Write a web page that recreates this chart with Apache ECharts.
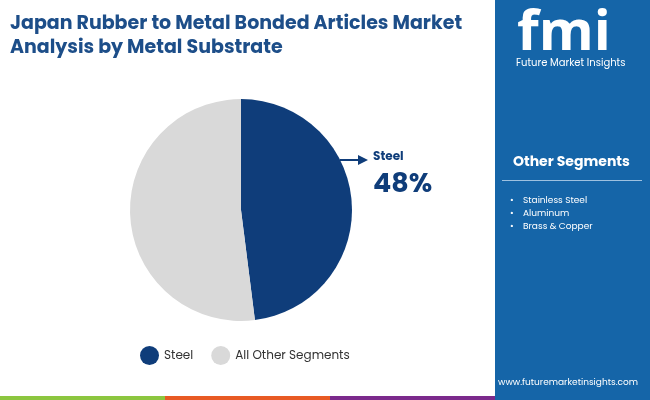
<!DOCTYPE html>
<html>
<head>
<meta charset="utf-8">
<script src="https://cdn.jsdelivr.net/npm/echarts@6/dist/echarts.min.js"></script>
<style>html,body{margin:0;padding:0;background:#fff}#main{width:650px;height:400px}</style>
</head>
<body>
<div id="main"></div>
<script>
var segments = ['Steel', 'All Other Segments'];
var shares = [48, 52];
var colors = ['#0f3d7a', '#d9d9d9'];
var otherItems = ['Stainless Steel', 'Aluminum', 'Brass & Copper'];

var chart = echarts.init(document.getElementById('main'));
var font = 'Poppins, "Open Sans", sans-serif';

var graphics = [
    // right panel
    { type: 'rect', shape: { x: 495, y: 0, width: 155, height: 400 }, style: { fill: '#1565a8' } },
    { type: 'text', left: 517, top: 6, style: { text: 'fmi', fill: '#fff', font: 'bold 56px "Open Sans", sans-serif' } },
    { type: 'text', left: 516, top: 58, style: { text: 'Future Market Insights', fill: '#fff', font: '10px ' + font } },
    { type: 'text', left: 513, top: 155, style: { text: 'Other Segments', fill: '#fff', font: 'bold 14px ' + font } },
    { type: 'rect', shape: { x: 502, y: 180, width: 140, height: 1 }, style: { fill: '#9ec1e0' } },
    { type: 'text', left: 498, top: 378, style: { text: 'www.futuremarketinsights.com', fill: '#fff', font: '9px ' + font } },
    // title
    { type: 'text', left: 10, top: 12, style: { text: 'Japan Rubber to Metal Bonded Articles Market\nAnalysis by Metal Substrate', fill: '#1d4e89', font: 'bold 19px ' + font, lineHeight: 24 } },
    // bottom bar
    { type: 'rect', shape: { x: 0, y: 396, width: 165, height: 4 }, style: { fill: '#8cc63f' } },
    { type: 'rect', shape: { x: 165, y: 396, width: 165, height: 4 }, style: { fill: '#e85a24' } },
    { type: 'rect', shape: { x: 330, y: 396, width: 165, height: 4 }, style: { fill: '#7b2a8c' } },
    // callout
    { type: 'line', shape: { x1: 340, y1: 160, x2: 360, y2: 160 }, style: { stroke: '#0f3d7a', lineWidth: 2 } },
    { type: 'polygon', shape: { points: [[358, 155], [368, 160], [358, 165]] }, style: { fill: '#0f3d7a' } },
    { type: 'text', left: 373, top: 151, style: { text: 'Steel', fill: '#0f3d7a', font: 'bold 12px ' + font } },
    { type: 'text', left: 373, top: 172, style: { text: shares[0] + '%', fill: '#0f3d7a', font: 'bold 27px ' + font } }
];
otherItems.forEach(function (t, i) {
    graphics.push({ type: 'text', left: 510, top: 196 + i * 13, style: { text: '•', fill: '#fff', font: '9px ' + font } });
    graphics.push({ type: 'text', left: 523, top: 196 + i * 13, style: { text: t, fill: '#fff', font: '9px ' + font } });
});

var option = {
    color: colors,
    graphic: graphics,
    legend: {
        bottom: 30, left: 135,
        icon: 'circle', itemWidth: 19, itemHeight: 19, itemGap: 18,
        textStyle: { fontSize: 12, color: '#333', fontFamily: font },
        data: segments
    },
    series: [{
        type: 'pie',
        center: [241, 210],
        radius: 111,
        startAngle: 90,
        clockwise: true,
        label: { show: false },
        labelLine: { show: false },
        data: segments.map(function (s, i) { return { name: s, value: shares[i] }; })
    }]
};
chart.setOption(option);
</script>
</body>
</html>
